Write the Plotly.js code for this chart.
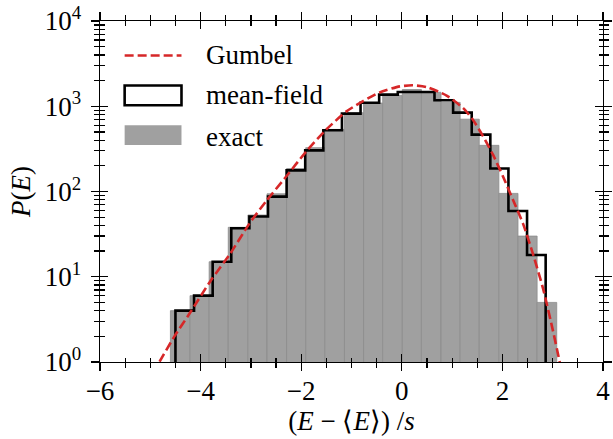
<!DOCTYPE html>
<html>
<head>
<meta charset="utf-8">
<script src="https://cdn.plot.ly/plotly-3.0.1.min.js"></script>
<style>html,body{margin:0;padding:0;background:#fff;}#chart{width:613px;height:439px;}</style>
</head>
<body>
<div id="chart"></div>
<script>
// ---- data ----
const exactEdges = [-4.60, -4.21, -3.83, -3.45, -3.06, -2.68, -2.29, -1.91, -1.53, -1.14, -0.76, -0.38, 0.01, 0.39, 0.78, 1.16, 1.54, 1.93, 2.31, 2.69, 3.08];
const exactCounts = [4, 6, 15, 38, 53, 94, 186, 327, 535, 840, 1090, 1340, 1570, 1460, 1110, 705, 348, 95, 30, 5];

const meanFieldEdges = [-4.50, -4.13, -3.76, -3.39, -3.03, -2.66, -2.29, -1.92, -1.56, -1.19, -0.82, -0.45, -0.08, 0.28, 0.65, 1.02, 1.39, 1.76, 2.12, 2.49, 2.86];
const meanFieldCounts = [4, 6, 15, 37, 51, 87, 177, 304, 522, 820, 1100, 1370, 1470, 1470, 1175, 842, 465, 186, 59, 18];

const gumbelX = [-4.95, -4.82, -4.52, -4.22, -3.80, -3.42, -3.03, -2.69, -2.33, -1.90, -1.50, -1.10, -0.77, -0.44, -0.04, 0.22, 0.49, 0.89, 1.22, 1.41, 1.61, 1.81, 2.01, 2.21, 2.41, 2.61, 2.81, 3.00, 3.14, 3.18];
const gumbelY = [0.75, 1.0, 2.0, 3.7, 9.0, 18.3, 42, 78, 142, 295, 535, 870, 1150, 1450, 1710, 1760, 1680, 1335, 950, 700, 450, 272, 151, 80, 42, 18.3, 7.2, 2.4, 1.0, 0.8];

const xTickVals = [-6, -4, -2, 0, 2, 4];
const yTickVals = [1, 10, 100, 1000, 10000];
const yTickText = ['10<sup>0</sup>', '10<sup>1</sup>', '10<sup>2</sup>', '10<sup>3</sup>', '10<sup>4</sup>'];

const legendLabels = ['Gumbel', 'mean-field', 'exact'];

// ---- build traces ----
function centers(e){ const c=[]; for(let i=0;i<e.length-1;i++) c.push((e[i]+e[i+1])/2); return c; }
function widths(e){ const w=[]; for(let i=0;i<e.length-1;i++) w.push(e[i+1]-e[i]); return w; }

const RED = '#d62728';
const GRAY = '#a0a0a0';

const exactTrace = {
  type: 'bar', x: centers(exactEdges), y: exactCounts, width: widths(exactEdges),
  marker: {color: GRAY, line: {color: '#8c8c8c', width: 0.8}},
  showlegend: false, hoverinfo: 'skip'
};

const stepX = [meanFieldEdges[0]].concat(meanFieldEdges);
const stepY = [1].concat(meanFieldCounts).concat([1]);
const meanFieldTrace = {
  type: 'scatter', mode: 'lines', x: stepX, y: stepY,
  line: {color: '#000', width: 2.6, shape: 'hv'},
  showlegend: false, hoverinfo: 'skip'
};

const gumbelTrace = {
  type: 'scatter', mode: 'lines', x: gumbelX, y: gumbelY,
  line: {color: RED, width: 2.6, dash: '9px,4px', shape: 'spline', smoothing: 0.6},
  showlegend: false, hoverinfo: 'skip'
};

const dummy = {type:'scatter', mode:'markers', x:[0], y:[10], xaxis:'x2', yaxis:'y2',
  marker:{opacity:0}, showlegend:false, hoverinfo:'skip'};

// minor tick values for log axis
const yMinor = [];
for (let d = 0; d < 4; d++) for (let k = 2; k <= 9; k++) yMinor.push(k * Math.pow(10, d));

const FONT = 'Liberation Serif';
const FS = 27;
const common = {showgrid:false, zeroline:false, linecolor:'#000', linewidth:1.3, tickcolor:'#000', tickwidth:1.3, ticklen:8, mirror:'ticks', showline:true};

const layout = {
  width: 613, height: 439,
  margin: {l: 100, r: 10, t: 21, b: 77},
  paper_bgcolor: '#fff', plot_bgcolor: '#fff',
  font: {family: FONT, size: FS, color: '#000'},
  bargap: 0,
  showlegend: false,
  xaxis: Object.assign({}, common, {
    range: [-6, 4], tickmode: 'array', tickvals: xTickVals, ticks: 'inside',
    tickfont: {family: FONT, size: FS, color: '#000'},
    minor: {dtick: 0.5, tick0: 0, ticks: 'inside', ticklen: 4.5, tickwidth: 1.2, tickcolor: '#000'},
    ticklabelstandoff: 4,
    title: {text: '(<i>E</i> − ⟨<i>E</i>⟩) /<i>s</i>', font: {family: FONT, size: FS, color: '#000'}, standoff: 6}
  }),
  yaxis: Object.assign({}, common, {
    type: 'log', range: [0, 4], tickmode: 'array', tickvals: yTickVals, ticktext: yTickText, ticks: 'inside',
    tickfont: {family: FONT, size: FS, color: '#000'},
    minor: {tickmode: 'array', tickvals: yMinor, ticks: 'inside', ticklen: 4.5, tickwidth: 1.2, tickcolor: '#000'},
    ticklabelstandoff: 12,
    title: {text: '<i>P</i>(<i>E</i>)', font: {family: FONT, size: FS, color: '#000'}, standoff: 6}
  }),
  xaxis2: Object.assign({}, common, {
    overlaying: 'x', anchor: 'y2', range: [-6, 4], tickmode: 'array', tickvals: xTickVals, ticks: 'outside',
    showticklabels: false,
    minor: {dtick: 0.5, tick0: 0, ticks: 'outside', ticklen: 4.5, tickwidth: 1.2, tickcolor: '#000'}
  }),
  yaxis2: Object.assign({}, common, {
    overlaying: 'y', anchor: 'x2', type: 'log', range: [0, 4], tickmode: 'array', tickvals: yTickVals, ticks: 'outside',
    showticklabels: false,
    minor: {tickmode: 'array', tickvals: yMinor, ticks: 'outside', ticklen: 4.5, tickwidth: 1.2, tickcolor: '#000'}
  }),
  shapes: [
    {type:'line', xref:'paper', yref:'paper', x0:0.049, x1:0.162, y0:0.899, y1:0.899, line:{color:RED, width:2.6, dash:'9px,4px'}},
    {type:'rect', xref:'paper', yref:'paper', x0:0.049, x1:0.162, y0:0.753, y1:0.811, line:{color:'#000', width:2.6}, fillcolor:'rgba(0,0,0,0)'},
    {type:'rect', xref:'paper', yref:'paper', x0:0.049, x1:0.162, y0:0.636, y1:0.694, line:{width:0}, fillcolor:GRAY}
  ],
  annotations: [
    {xref:'paper', yref:'paper', x:0.206, y:0.899, xanchor:'left', yanchor:'middle', text:legendLabels[0], showarrow:false, font:{family:FONT, size:FS, color:'#000'}},
    {xref:'paper', yref:'paper', x:0.206, y:0.782, xanchor:'left', yanchor:'middle', text:legendLabels[1], showarrow:false, font:{family:FONT, size:FS, color:'#000'}},
    {xref:'paper', yref:'paper', x:0.206, y:0.660, xanchor:'left', yanchor:'middle', text:legendLabels[2], showarrow:false, font:{family:FONT, size:FS, color:'#000'}}
  ]
};

Plotly.newPlot('chart', [exactTrace, meanFieldTrace, gumbelTrace, dummy], layout, {staticPlot: true, displayModeBar: false});
</script>
</body>
</html>
